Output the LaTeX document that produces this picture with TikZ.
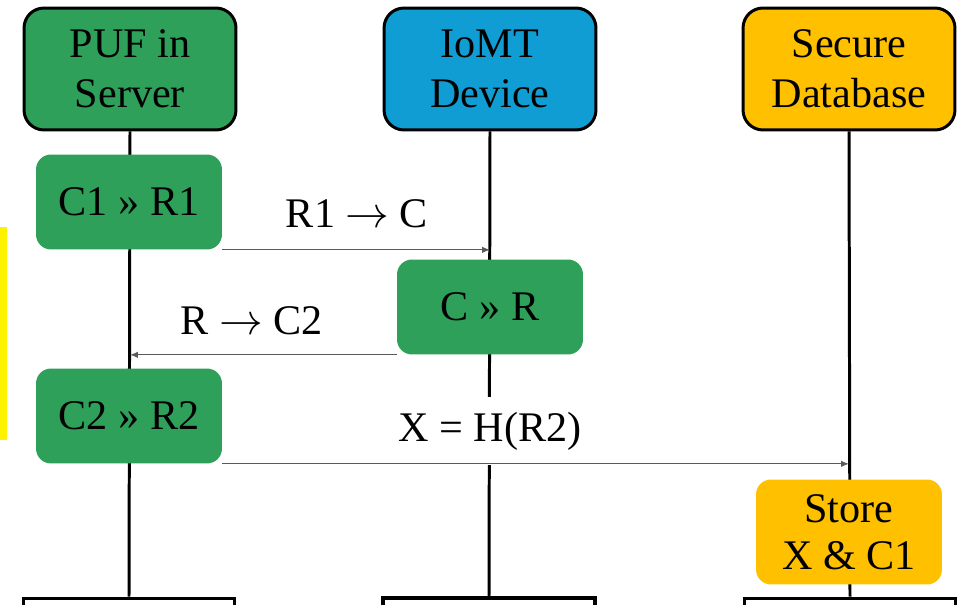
\documentclass[tikz,border=0pt]{standalone}
\usepackage{fontspec}
\setmainfont{Liberation Serif}
\usetikzlibrary{arrows.meta,positioning,calc,backgrounds}
\definecolor{pufgreen}{RGB}{46,160,90}
\definecolor{iomtblue}{RGB}{16,157,212}
\definecolor{dbgold}{RGB}{255,192,0}
\definecolor{msggray}{RGB}{90,90,90}

\tikzset{
  actor/.style={draw, line width=1.7pt, rounded corners=0.4cm, minimum width=4.24cm,
                minimum height=2.44cm, align=center},
  stepbox/.style={rounded corners=0.3cm, minimum width=3.72cm, minimum height=1.9cm, align=center},
  endbox/.style={draw, fill=white, line width=1.7pt, minimum width=4.24cm, minimum height=1cm},
  lifeline/.style={line width=1.7pt},
  msg/.style={draw=msggray, line width=0.6pt, -{Latex[length=1.6mm,width=1.3mm]}}
}

\begin{document}
\begin{tikzpicture}[x=0.02cm, y=-0.02cm, font=\fontsize{24}{28.5}\selectfont]
  \useasboundingbox (0,0) rectangle (964,605);
  \fill[yellow] (0,227) rectangle (7,440);

  \node[actor, fill=pufgreen] (puf) at (130,69) {PUF in\\Server};
  \node[actor, fill=iomtblue] (iomt) at (490,69) {IoMT\\Device};
  \node[actor, fill=dbgold] (db) at (849,69) {Secure\\Database};

  \node[endbox] (pufend) at (129,623) {};
  \node[endbox, line width=2.4pt] (iomtend) at (489,623) {};
  \node[endbox] (dbend) at (850,623) {};

  \node[stepbox, fill=pufgreen] (c1r1) at (129,202) {C1 » R1};
  \node[stepbox, fill=pufgreen] (cr) at (490,307) {C » R};
  \node[stepbox, fill=pufgreen] (c2r2) at (129,416) {C2 » R2};
  \node[stepbox, fill=dbgold, minimum height=2.1cm, text depth=0pt] (store) at (849,532)
       {Store\\[-2pt]X \& C1};

  \begin{scope}[on background layer]
    \draw[lifeline] (puf.south) -- (pufend.north);
    \draw[lifeline] (iomt.south) -- (iomtend.north);
    \draw[lifeline] (db.south) -- (dbend.north);
  \end{scope}

  \node (lblrc) at (357,214) {R1 $\rightarrow$ C};
  \node (lblrc2) at (252,321) {R $\rightarrow$ C2};
  \node[fill=white, minimum height=1.38cm] (lblhash) at (490,431) {X = H(R2)};

  \draw[msg] (c1r1.south east) -- (c1r1.south east -| iomt);
  \draw[msg] (cr.south west) -- (cr.south west -| puf);
  \draw[msg] (c2r2.south east) -- (c2r2.south east -| db);
\end{tikzpicture}
\end{document}
